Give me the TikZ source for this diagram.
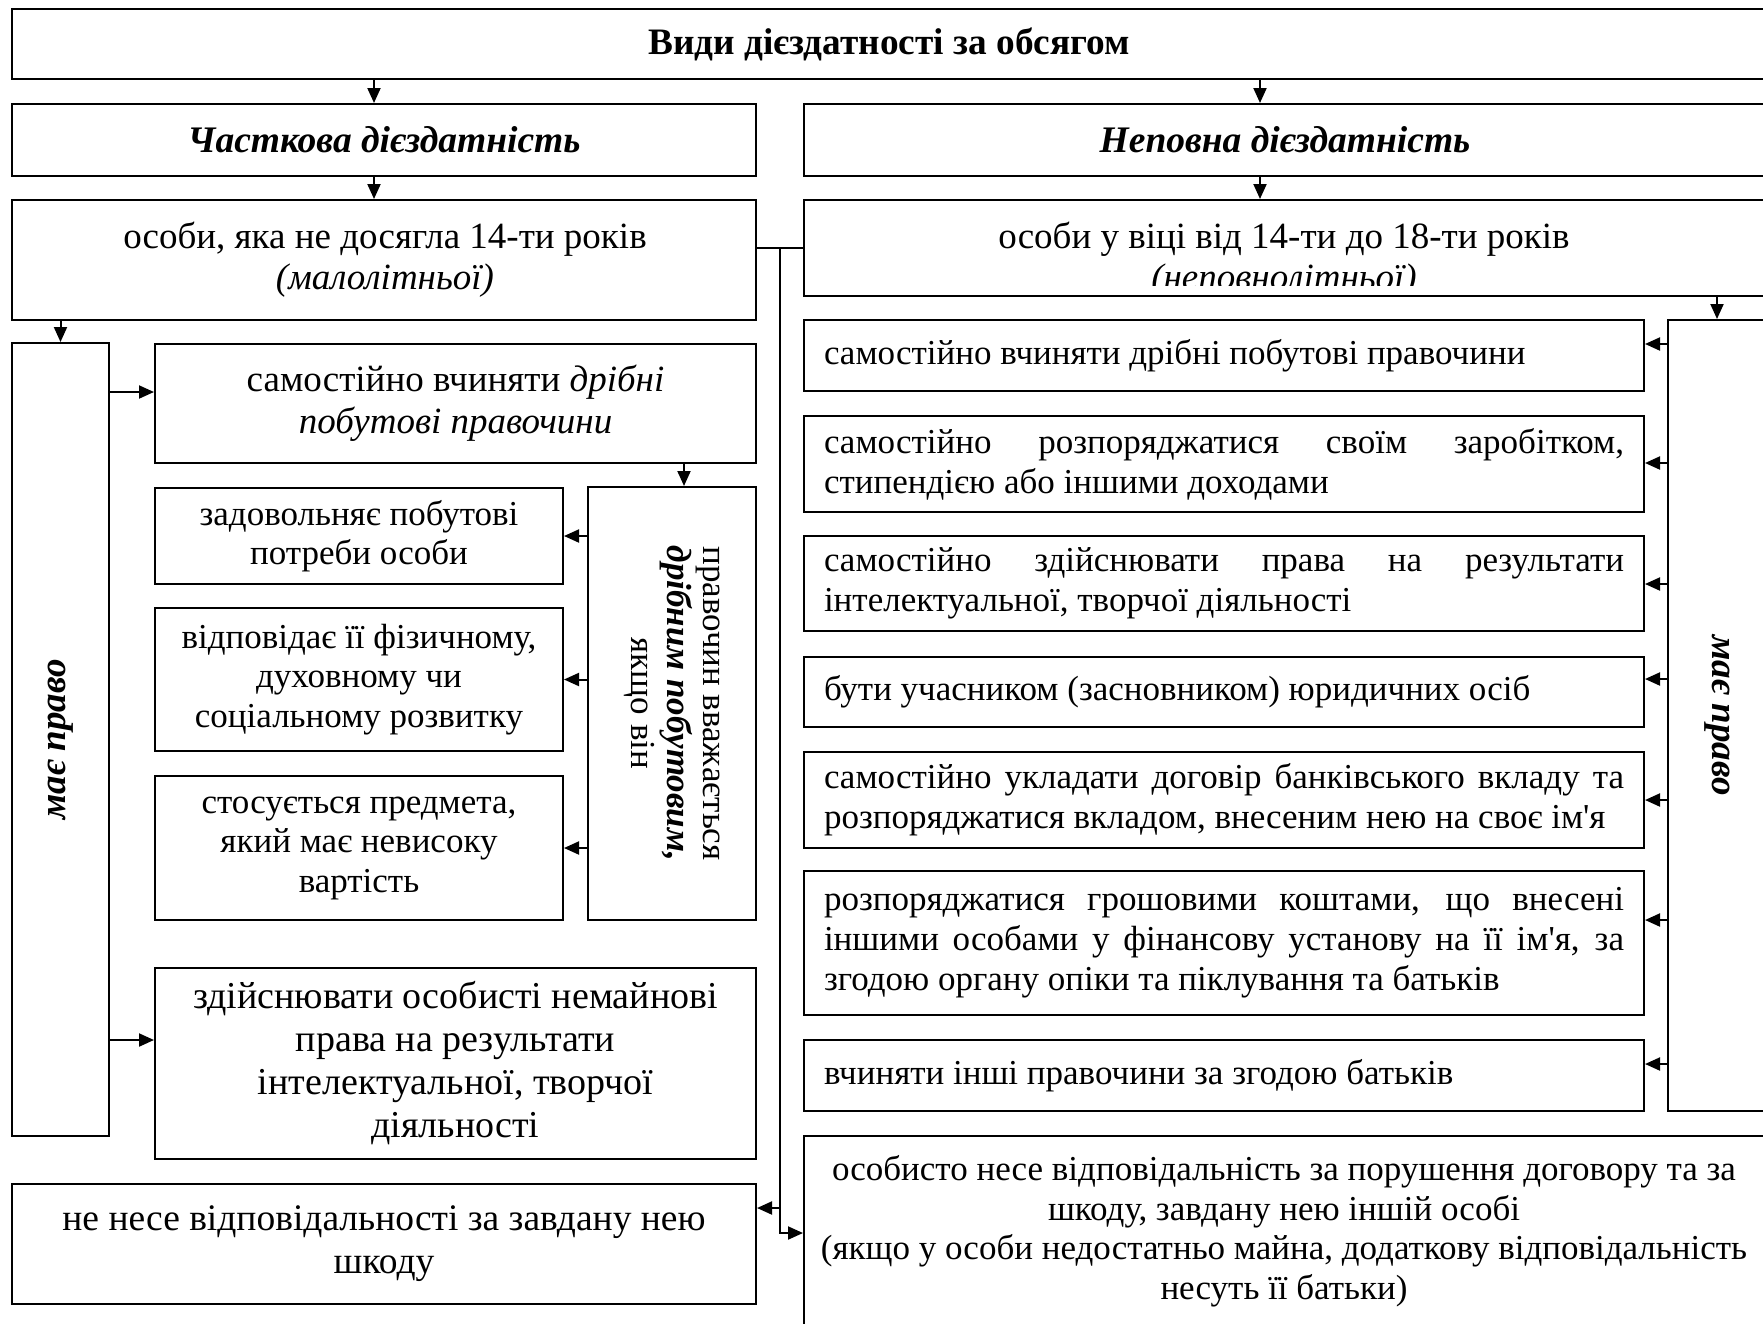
\documentclass[tikz,border=0pt]{standalone}
\usepackage{fontspec}
\setmainfont{Liberation Serif}[Ligatures=TeXOff]
\usetikzlibrary{arrows.meta}
\newcommand\setfs[2]{\fontsize{#1pt}{#2pt}\selectfont}
\tikzset{
  box/.style={draw, line width=2pt, inner sep=0pt, align=center},
  txt/.style={inner sep=0pt, align=center},
  conn/.style={line width=2pt},
  arr/.style={conn, -{Triangle[length=15pt,width=13pt]}},
  jbox/.style={box, align=justify, text width=800pt, font=\setfs{35}{40}},
}
\newcommand\mkbox[7][]{\node[box,minimum width={(#5)-(#3)},minimum height={(#6)-(#4)},#1] (#2) at ({((#3)+(#5))/2},{((#4)+(#6))/2}) {#7};}
\begin{document}
\begin{tikzpicture}[x=1pt,y=-1pt,font=\setfs{35}{39.5}]
\useasboundingbox (0,0) rectangle (1763,1323);
% top rows
\mkbox[font=\setfs{37.3}{40}\bfseries]{top}{12}{9}{1766}{79}{Види дієздатності за обсягом}
\mkbox[font=\setfs{37.5}{40}\bfseries\itshape]{ch}{12}{104}{756}{176}{Часткова дієздатність}
\mkbox[font=\setfs{37.5}{40}\bfseries\itshape]{np}{804}{104}{1766}{176}{Неповна дієздатність}
\mkbox{b3}{12}{200}{756}{320}{}
\mkbox{b4}{804}{200}{1766}{296}{}
\node[txt,anchor=base,font=\setfs{37}{42}] (t3a) at (385,248) {особи, яка не досягла 14-ти років};
\node[txt,anchor=base,font=\setfs{37}{42}\itshape] (t3b) at (385,289) {(малолітньої)};
\node[txt,anchor=base,font=\setfs{37}{42}] (t4a) at (1284,248) {особи у віці від 14-ти до 18-ти років};
\begin{scope}
\clip (804,255) rectangle (1766,285);
\node[txt,anchor=base,font=\setfs{37}{42}\itshape] (t4b) at (1284,289) {(неповнолітньої)};
\end{scope}
% left column
\mkbox{mpL}{12}{343}{109}{1136}{}
\node[txt,rotate=90,font=\setfs{37}{40}\bfseries\itshape] (mpLt) at (mpL) {має право};
\mkbox[font=\setfs{37}{42}]{s1}{155}{344}{756}{463}{самостійно вчиняти \textit{дрібні}\\\textit{побутові правочини}}
\mkbox{pv}{588}{487}{756}{920}{}
\node[txt,rotate=-90,font=\setfs{35}{36}] (pvt) at (pv) {правочин вважається\\\textbf{\textit{дрібним побутовим,}}\\якщо він};
\mkbox{z1}{155}{488}{563}{584}{задовольняє побутові\\потреби особи}
\mkbox{z2}{155}{608}{563}{751}{відповідає її фізичному,\\духовному чи\\соціальному розвитку}
\mkbox{z3}{155}{776}{563}{920}{стосується предмета,\\який має невисоку\\вартість}
\mkbox[font=\setfs{38}{43}]{zd}{155}{968}{756}{1159}{здійснювати особисті немайнові\\права на результати\\інтелектуальної, творчої\\діяльності}
\mkbox[font=\setfs{37.5}{43}]{nn}{12}{1184}{756}{1304}{не несе відповідальності за завдану нею\\шкоду}
% right column
\mkbox{mpR}{1668}{320}{1766}{1111}{}
\node[txt,rotate=-90,font=\setfs{37}{40}\bfseries\itshape] (mpRt) at (mpR) {має право};
\mkbox[jbox]{r1}{804}{320}{1644}{391}{самостійно вчиняти дрібні побутові правочини}
\mkbox[jbox]{r2}{804}{416}{1644}{512}{самостійно розпоряджатися своїм заробітком,\linebreak стипендією або іншими доходами}
\mkbox[jbox]{r3}{804}{536}{1644}{631}{самостійно здійснювати права на результати\linebreak інтелектуальної, творчої діяльності}
\mkbox[jbox]{r4}{804}{657}{1644}{727}{бути учасником (засновником) юридичних осіб}
\mkbox[jbox]{r5}{804}{752}{1644}{848}{самостійно укладати договір банківського вкладу та\linebreak розпоряджатися вкладом, внесеним нею на своє ім'я}
\mkbox[jbox]{r6}{804}{871}{1644}{1015}{розпоряджатися грошовими коштами, що внесені\linebreak іншими особами у фінансову установу на її ім'я, за\linebreak згодою органу опіки та піклування та батьків}
\mkbox[jbox]{r7}{804}{1040}{1644}{1111}{вчиняти інші правочини за згодою батьків}
\mkbox{br}{804}{1136}{1766}{1330}{}
\node[txt,font=\setfs{35}{39.5}] (brt) at (1284,1231) {особисто несе відповідальність за порушення договору та за\\шкоду, завдану нею іншій особі\\(якщо у особи недостатньо майна, додаткову відповідальність\\несуть її батьки)};
% helper coordinates
\coordinate (xa) at (374,0);
\coordinate (xb) at (1260,0);
\coordinate (xv) at (780,0);
\coordinate (xs) at (684,0);
\coordinate (ya) at (0,248);
\coordinate (yl) at (0,1208);
\coordinate (yr) at (0,1233);
\coordinate (ys1) at (0,392);
\coordinate (yzd) at (0,1040);
% connectors
\draw[arr] (xa |- top.south) -- (xa |- ch.north);
\draw[arr] (xb |- top.south) -- (xb |- np.north);
\draw[arr] (xa |- ch.south) -- (xa |- b3.north);
\draw[arr] (xb |- np.south) -- (xb |- b4.north);
\draw[arr] (mpL.north |- b3.south) -- (mpL.north);
\draw[arr] (mpR.north |- b4.south) -- (mpR.north);
\draw[conn] (b3.east |- ya) -- (b4.west |- ya);
\draw[arr] (xv |- ya) -- (xv |- yr) -- (br.west |- yr);
\draw[arr] (xv |- yl) -- (nn.east |- yl);
\draw[arr] (mpL.east |- ys1) -- (s1.west |- ys1);
\draw[arr] (mpL.east |- yzd) -- (zd.west |- yzd);
\draw[arr] (xs |- s1.south) -- (xs |- pv.north);
\foreach \z in {z1,z2,z3} \draw[arr] (pv.west |- \z.east) -- (\z.east);
\foreach \r/\yy in {r1/344,r2/463,r3/584,r4/679,r5/800,r6/920,r7/1064}{
  \coordinate (c\r) at (0,\yy);
  \draw[arr] (mpR.west |- c\r) -- (\r.east |- c\r);
}
\end{tikzpicture}
\end{document}
